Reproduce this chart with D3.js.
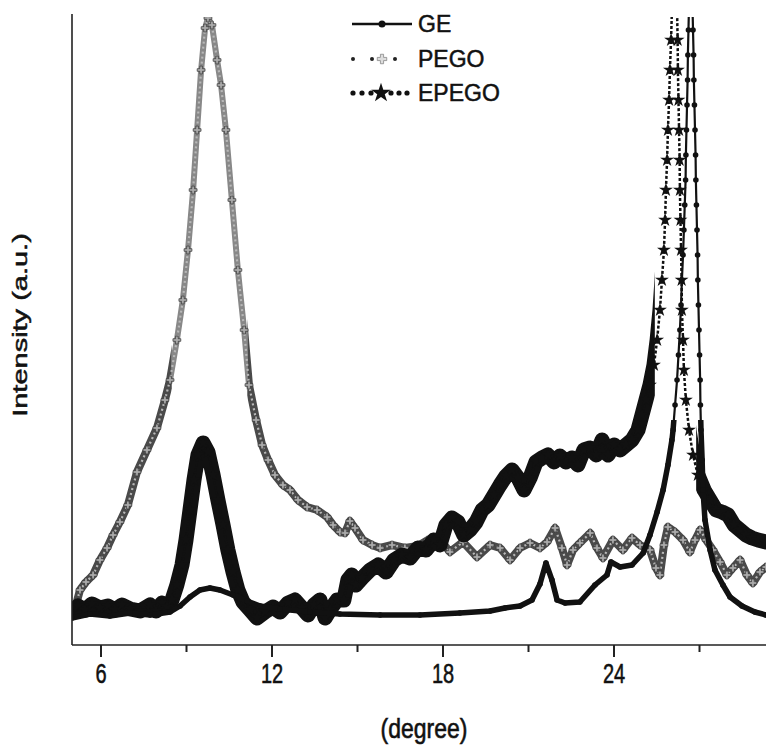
<!DOCTYPE html>
<html>
<head>
<meta charset="utf-8">
<script src="https://cdn.jsdelivr.net/npm/d3@7"></script>
<style>
  html, body { margin: 0; padding: 0; background: #fff; }
  svg { display: block; }
</style>
</head>
<body>
<svg id="chart" width="766" height="745"></svg>
<script>
// ---------- DATA (2θ in degrees, intensity in arbitrary units) ----------
const xTicks = [6, 12, 18, 24];
const xMinorTicks = [9, 15, 21, 27];
const xLabel = "(degree)";
const yLabel = "Intensity (a.u.)";
const seriesNames = ["GE", "PEGO", "EPEGO"];

const geX = [5.00,5.63,6.33,7.04,7.74,8.44,8.79,9.14,9.49,9.84,10.19,10.65,11.14,11.60,12.30,13.35,14.40,15.81,17.21,18.61,19.67,20.19,20.72,21.14,21.42,21.63,21.84,22.02,22.30,22.82,23.35,23.77,23.91,24.23,24.65,25.04,25.28,25.53,25.74,25.91,26.05,26.09,26.16,26.23,26.28,26.33,26.37,26.40,26.44,26.47,26.50,26.53,26.54,26.56,26.58,26.60,26.61,26.63,26.65,26.68,26.75,26.77,26.79,26.81,26.82,26.84,26.86,26.88,26.89,26.91,26.93,26.95,26.96,26.98,27.00,27.02,27.04,27.05,27.07,27.11,27.14,27.21,27.39,27.56,27.84,28.09,28.51,28.96,29.35,30.00];
const geY = [54,62,58,64,60,66,78,96,110,114,110,100,88,78,72,66,62,60,60,64,68,74,78,90,122,164,130,90,84,86,120,140,166,156,160,184,220,266,310,360,410,430,480,530,580,630,680,730,780,830,880,930,980,1030,1080,1130,1180,1230,1280,1330,1330,1280,1230,1180,1130,1080,1030,980,930,880,830,780,730,680,630,580,530,480,430,370,310,250,190,150,120,96,78,66,60,58];

const pegoX = [5.00,5.14,5.28,5.49,5.74,5.98,6.23,6.44,6.68,6.96,7.28,7.63,7.98,8.26,8.44,8.68,8.89,9.07,9.25,9.39,9.53,9.67,9.77,9.91,10.09,10.23,10.40,10.61,10.82,11.04,11.21,11.46,11.67,11.88,12.12,12.40,12.65,12.93,13.25,13.60,13.95,14.16,14.40,14.58,14.75,14.93,15.21,15.53,15.81,16.23,16.68,17.14,17.49,17.84,18.26,18.72,19.21,19.67,20.02,20.37,20.72,21.07,21.42,21.67,21.95,22.19,22.37,22.58,22.82,23.18,23.42,23.63,23.98,24.33,24.65,24.93,25.28,25.49,25.63,25.77,25.91,26.16,26.44,26.68,26.86,27.04,27.25,27.49,27.74,27.98,28.19,28.44,28.68,28.89,29.14,29.35,30.00];
const pegoY = [60,80,110,126,140,170,194,220,246,280,346,390,434,490,530,610,690,790,910,1030,1150,1234,1254,1240,1170,1120,1030,890,750,630,520,450,400,370,340,320,310,290,276,270,256,240,226,224,248,234,210,200,194,200,194,198,210,216,186,206,176,200,194,170,194,204,194,206,234,194,160,190,204,224,194,174,210,190,214,200,190,154,140,200,236,226,210,186,210,230,210,190,166,140,154,170,140,124,146,156,150];

const epegoX = [5.00,5.21,5.46,5.70,5.98,6.26,6.51,6.75,7.04,7.39,7.74,7.95,8.16,8.33,8.51,8.68,8.86,9.00,9.14,9.28,9.42,9.60,9.77,9.95,10.12,10.30,10.47,10.65,10.82,11.00,11.25,11.49,11.77,12.05,12.30,12.58,12.82,13.07,13.28,13.49,13.70,13.88,14.05,14.30,14.54,14.68,14.82,14.96,15.18,15.46,15.74,16.02,16.30,16.58,16.86,17.14,17.42,17.70,17.91,18.12,18.33,18.54,18.75,18.96,19.18,19.39,19.60,19.81,20.02,20.23,20.44,20.65,20.86,21.07,21.28,21.49,21.70,21.91,22.12,22.33,22.54,22.75,22.96,23.18,23.39,23.60,23.81,24.02,24.23,24.44,24.65,24.86,25.00,25.14,25.28,25.42,25.53,25.63,25.70,25.77,25.81,25.84,25.88,25.91,25.95,25.98,26.02,26.05,26.09,26.19,26.23,26.25,26.26,26.28,26.30,26.32,26.33,26.35,26.37,26.39,26.40,26.44,26.47,26.54,26.65,26.79,26.96,27.18,27.39,27.60,27.81,28.02,28.23,28.44,28.65,28.86,29.07,29.35,30.00];
const epegoY = [66,78,70,82,74,78,70,80,72,68,80,68,84,76,90,120,160,210,270,330,380,404,386,340,290,240,190,146,110,86,70,54,66,76,66,84,90,74,60,80,90,54,70,90,90,130,140,120,134,150,160,146,170,180,174,194,190,210,200,240,254,246,220,230,246,270,280,300,320,338,350,334,310,334,366,374,380,366,378,366,374,360,390,394,380,410,380,400,390,400,410,430,460,490,520,560,610,670,730,790,850,910,970,1030,1090,1150,1210,1270,1330,1330,1270,1210,1150,1090,1030,970,910,850,790,730,670,610,550,490,430,380,340,310,290,270,266,260,240,230,220,214,210,206,200];

(function () {
// ---------- LAYOUT ----------
const svg = d3.select("#chart");
const W = 766;
const mLeft = 72, mBottom = 645, mTop = 14;
const font = "'Liberation Sans', Arial, Helvetica, sans-serif";

const x = d3.scaleLinear().domain([5, 30]).range([mLeft, mLeft + 25 * 28.5]);
const y = d3.scaleLinear().domain([0, 1260]).range([mBottom, mBottom - 630]);

const defs = svg.append("defs");
defs.append("clipPath").attr("id", "plotclip")
  .append("rect").attr("x", mLeft).attr("y", 17).attr("width", W - mLeft).attr("height", mBottom - 17);
// EPEGO drawn as a broad noisy band everywhere except the sharp 26° reflection
const band = defs.append("clipPath").attr("id", "bandclip");
band.append("rect").attr("x", mLeft).attr("y", 0).attr("width", x(25.45) - mLeft).attr("height", mBottom);
band.append("rect").attr("x", x(26.9)).attr("y", 0).attr("width", W - x(26.9)).attr("height", mBottom);
// PEGO: light where markers are sparse (steep peak flanks), dark where they merge
defs.append("clipPath").attr("id", "pegolight")
  .append("rect").attr("x", x(8.5)).attr("y", 0).attr("width", x(11.15) - x(8.5)).attr("height", 480);
const pd = defs.append("clipPath").attr("id", "pegodark");
pd.append("rect").attr("x", mLeft).attr("y", 0).attr("width", x(8.5) - mLeft).attr("height", mBottom);
pd.append("rect").attr("x", x(11.15)).attr("y", 0).attr("width", W - x(11.15)).attr("height", mBottom);
pd.append("rect").attr("x", mLeft).attr("y", 480).attr("width", W - mLeft).attr("height", mBottom - 480);
// GE: thick trace except on the flanks of the sharp 26.7° reflection
const gthick = defs.append("clipPath").attr("id", "gethick");
gthick.append("rect").attr("x", mLeft).attr("y", 0).attr("width", W - mLeft).attr("height", mBottom);
const gthick2 = defs.append("clipPath").attr("id", "gethin");
gthick2.append("rect").attr("x", mLeft).attr("y", 0).attr("width", W - mLeft).attr("height", 420);

const plot = svg.append("g").attr("clip-path", "url(#plotclip)");
const line = d3.line().x(d => x(d[0])).y(d => y(d[1]));

const zip = (a, b) => a.map((v, i) => [v, b[i]]).filter(d => d[1] !== undefined);
const ge = zip(geX, geY);
const pego = zip(pegoX, pegoY);
const epego = zip(epegoX, epegoY);

// PEGO (grey, dotted with cross markers)
plot.append("g").attr("clip-path", "url(#pegodark)").append("path").datum(pego).attr("d", line)
  .attr("fill", "none").attr("stroke", "#4a4a4a").attr("stroke-width", 8)
  .attr("stroke-linejoin", "round");
plot.append("g").attr("clip-path", "url(#pegolight)").append("path").datum(pego).attr("d", line)
  .attr("fill", "none").attr("stroke", "#888").attr("stroke-width", 6)
  .attr("stroke-linejoin", "round");
plot.append("path").datum(pego).attr("d", line)
  .attr("fill", "none").attr("stroke", "#b8b8b8").attr("stroke-width", 2.2)
  .attr("stroke-dasharray", "2,3");
plot.selectAll(".pm").data(pego).join("path").attr("class", "pm")
  .attr("transform", d => `translate(${x(d[0])},${y(d[1])})`)
  .attr("d", d3.symbol(d3.symbolCross, 34)())
  .attr("fill", "#aaa").attr("stroke", "#333").attr("stroke-width", 0.7);

// EPEGO (black, broad noisy band, star markers)
plot.append("g").attr("clip-path", "url(#bandclip)")
  .append("path").datum(epego).attr("d", line)
  .attr("fill", "none").attr("stroke", "#111").attr("stroke-width", 15)
  .attr("stroke-linejoin", "round");
plot.append("path").datum(epego).attr("d", line)
  .attr("fill", "none").attr("stroke", "#111").attr("stroke-width", 2.5)
  .attr("stroke-dasharray", "3,2");
plot.selectAll(".em").data(epego).join("path").attr("class", "em")
  .attr("transform", d => `translate(${x(d[0])},${y(d[1])})`)
  .attr("d", d3.symbol(d3.symbolStar, 60)())
  .attr("fill", "#111");

// GE (black solid, small circles) – thick low trace, thin line on the tall peak
const geLow = plot.append("g").attr("clip-path", "url(#gelow)");
defs.append("clipPath").attr("id", "gelow")
  .append("rect").attr("x", mLeft).attr("y", 420).attr("width", W - mLeft).attr("height", mBottom - 420);
geLow.append("path").datum(ge).attr("d", line)
  .attr("fill", "none").attr("stroke", "#111").attr("stroke-width", 5.5)
  .attr("stroke-linejoin", "round");
plot.append("g").attr("clip-path", "url(#gethin)")
  .append("path").datum(ge).attr("d", line)
  .attr("fill", "none").attr("stroke", "#111").attr("stroke-width", 2.2)
  .attr("stroke-linejoin", "miter");
plot.selectAll(".gm").data(ge).join("circle").attr("class", "gm")
  .attr("cx", d => x(d[0])).attr("cy", d => y(d[1])).attr("r", 2.8)
  .attr("fill", "#111");

// ---------- AXES ----------
svg.append("line").attr("x1", mLeft).attr("x2", mLeft).attr("y1", mTop).attr("y2", mBottom)
  .attr("stroke", "#222").attr("stroke-width", 1.6);
svg.append("line").attr("x1", mLeft).attr("x2", W).attr("y1", mBottom).attr("y2", mBottom)
  .attr("stroke", "#222").attr("stroke-width", 1.6);

const xAxis = svg.append("g").attr("transform", `translate(0,${mBottom})`)
  .call(d3.axisBottom(x).tickValues(xTicks).tickSize(12).tickFormat(d3.format("d")));
xAxis.select(".domain").remove();
xAxis.selectAll(".tick line").attr("stroke", "#222").attr("stroke-width", 2);
xAxis.selectAll(".tick text")
  .attr("y", 0).attr("dy", 0)
  .attr("transform", "translate(0,38) scale(1,1.4)")
  .attr("font-family", font).attr("font-size", 20).attr("fill", "#111")
  .attr("stroke", "#111").attr("stroke-width", 0.4);

const xMinor = svg.append("g").attr("transform", `translate(0,${mBottom})`)
  .call(d3.axisBottom(x).tickValues(xMinorTicks).tickSize(7).tickFormat(""));
xMinor.select(".domain").remove();
xMinor.selectAll(".tick line").attr("stroke", "#222").attr("stroke-width", 2);

// axis titles
svg.append("text")
  .attr("transform", "translate(424,738) scale(1,1.2)")
  .attr("text-anchor", "middle").attr("font-family", font).attr("font-size", 23)
  .attr("fill", "#111").attr("stroke", "#111").attr("stroke-width", 0.5).text(xLabel);
svg.append("text")
  .attr("transform", "translate(27,325) rotate(-90) scale(1.45,1)")
  .attr("text-anchor", "middle").attr("font-family", font).attr("font-size", 20)
  .attr("fill", "#111").attr("stroke", "#111").attr("stroke-width", 0.5).text(yLabel);

// ---------- LEGEND ----------
const legendY = [24, 59, 93];
const lg = svg.append("g");
seriesNames.forEach((name, i) => {
  const yy = legendY[i];
  if (name === "GE") {
    lg.append("line").attr("x1", 352).attr("x2", 412).attr("y1", yy).attr("y2", yy)
      .attr("stroke", "#111").attr("stroke-width", 2.5);
    lg.append("circle").attr("cx", 382).attr("cy", yy).attr("r", 3.5).attr("fill", "#111");
  } else if (name === "PEGO") {
    [353, 372, 395].forEach(cx => lg.append("circle").attr("cx", cx).attr("cy", yy).attr("r", 2).attr("fill", "#222"));
    lg.append("path").attr("transform", `translate(382,${yy})`)
      .attr("d", d3.symbol(d3.symbolCross, 50)())
      .attr("fill", "#ddd").attr("stroke", "#888").attr("stroke-width", 0.8);
  } else {
    [353, 362, 371, 391, 399, 407].forEach(cx => lg.append("circle").attr("cx", cx).attr("cy", yy).attr("r", 2.6).attr("fill", "#111"));
    lg.append("path").attr("transform", `translate(381,${yy})`)
      .attr("d", d3.symbol(d3.symbolStar, 120)()).attr("fill", "#111");
  }
  lg.append("text")
    .attr("transform", `translate(418,${yy + 8}) scale(1,1.05)`)
    .attr("font-family", font).attr("font-size", 23).attr("fill", "#111")
    .attr("stroke", "#111").attr("stroke-width", 0.5).text(name);
});
})();
</script>
</body>
</html>
